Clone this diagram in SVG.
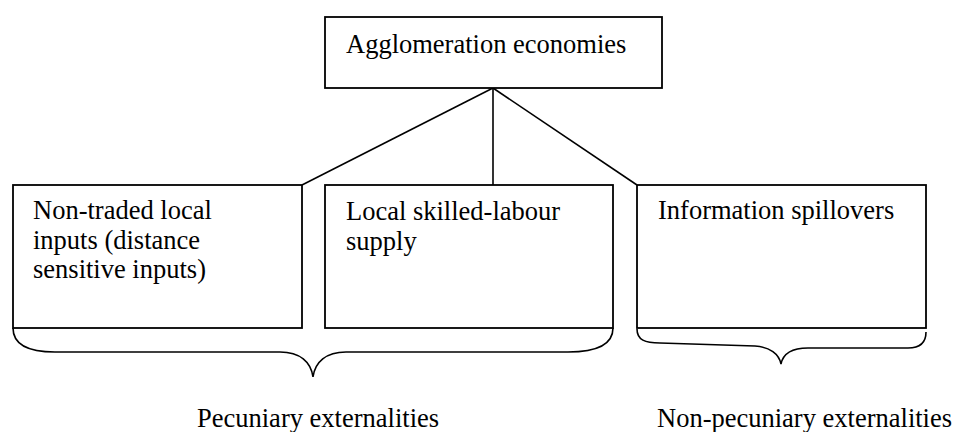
<svg xmlns="http://www.w3.org/2000/svg" width="955" height="432" viewBox="0 0 955 432">
<style>
.box{fill:#fff;stroke:#000;stroke-width:1.8}
.ln{fill:none;stroke:#000;stroke-width:1.6}
.t{font-family:'Liberation Serif','Times New Roman',Times,serif;font-size:26.5px;fill:#000}
</style>
<rect width="955" height="432" fill="#fff"/>
<g id="connectors">
<line class="ln" x1="493" y1="88" x2="302" y2="185"/>
<line class="ln" x1="493" y1="88" x2="493" y2="185"/>
<line class="ln" x1="493" y1="88" x2="637" y2="185"/>
</g>
<g id="agglomeration">
<rect class="box" x="325" y="17" width="337" height="71"/>
<text class="t" font-family="Liberation Serif, serif" x="346" y="53">Agglomeration economies</text>
</g>
<g id="non-traded">
<rect class="box" x="13" y="185" width="289" height="143"/>
<text class="t" font-family="Liberation Serif, serif" x="33" y="219">Non-traded local</text>
<text class="t" font-family="Liberation Serif, serif" x="33" y="248.5">inputs (distance</text>
<text class="t" font-family="Liberation Serif, serif" x="33" y="278">sensitive inputs)</text>
</g>
<g id="skilled-labour">
<rect class="box" x="325" y="185" width="288" height="143"/>
<text class="t" font-family="Liberation Serif, serif" x="346" y="220">Local skilled-labour</text>
<text class="t" font-family="Liberation Serif, serif" x="346" y="250">supply</text>
</g>
<g id="information">
<rect class="box" x="637" y="185" width="289" height="143"/>
<text class="t" font-family="Liberation Serif, serif" x="658" y="219">Information spillovers</text>
</g>
<g id="pecuniary">
<path class="ln" d="M13,328 C13,345 30,352 55,352 L280,352 C300,352 311,362 313,377 C315,362 326,352 346,352 L568,352 C596,352 613,345 613,328"/>
<text class="t" font-family="Liberation Serif, serif" x="197" y="427">Pecuniary externalities</text>
</g>
<g id="non-pecuniary">
<path class="ln" d="M637,329 C637,340 645,343 660,343 L755,346 C770,347 779,354 781,364 C783,354 792,348 808,348 L908,348 C920,348 926,342 926,332"/>
<text class="t" font-family="Liberation Serif, serif" x="657" y="427">Non-pecuniary externalities</text>
</g>
</svg>
